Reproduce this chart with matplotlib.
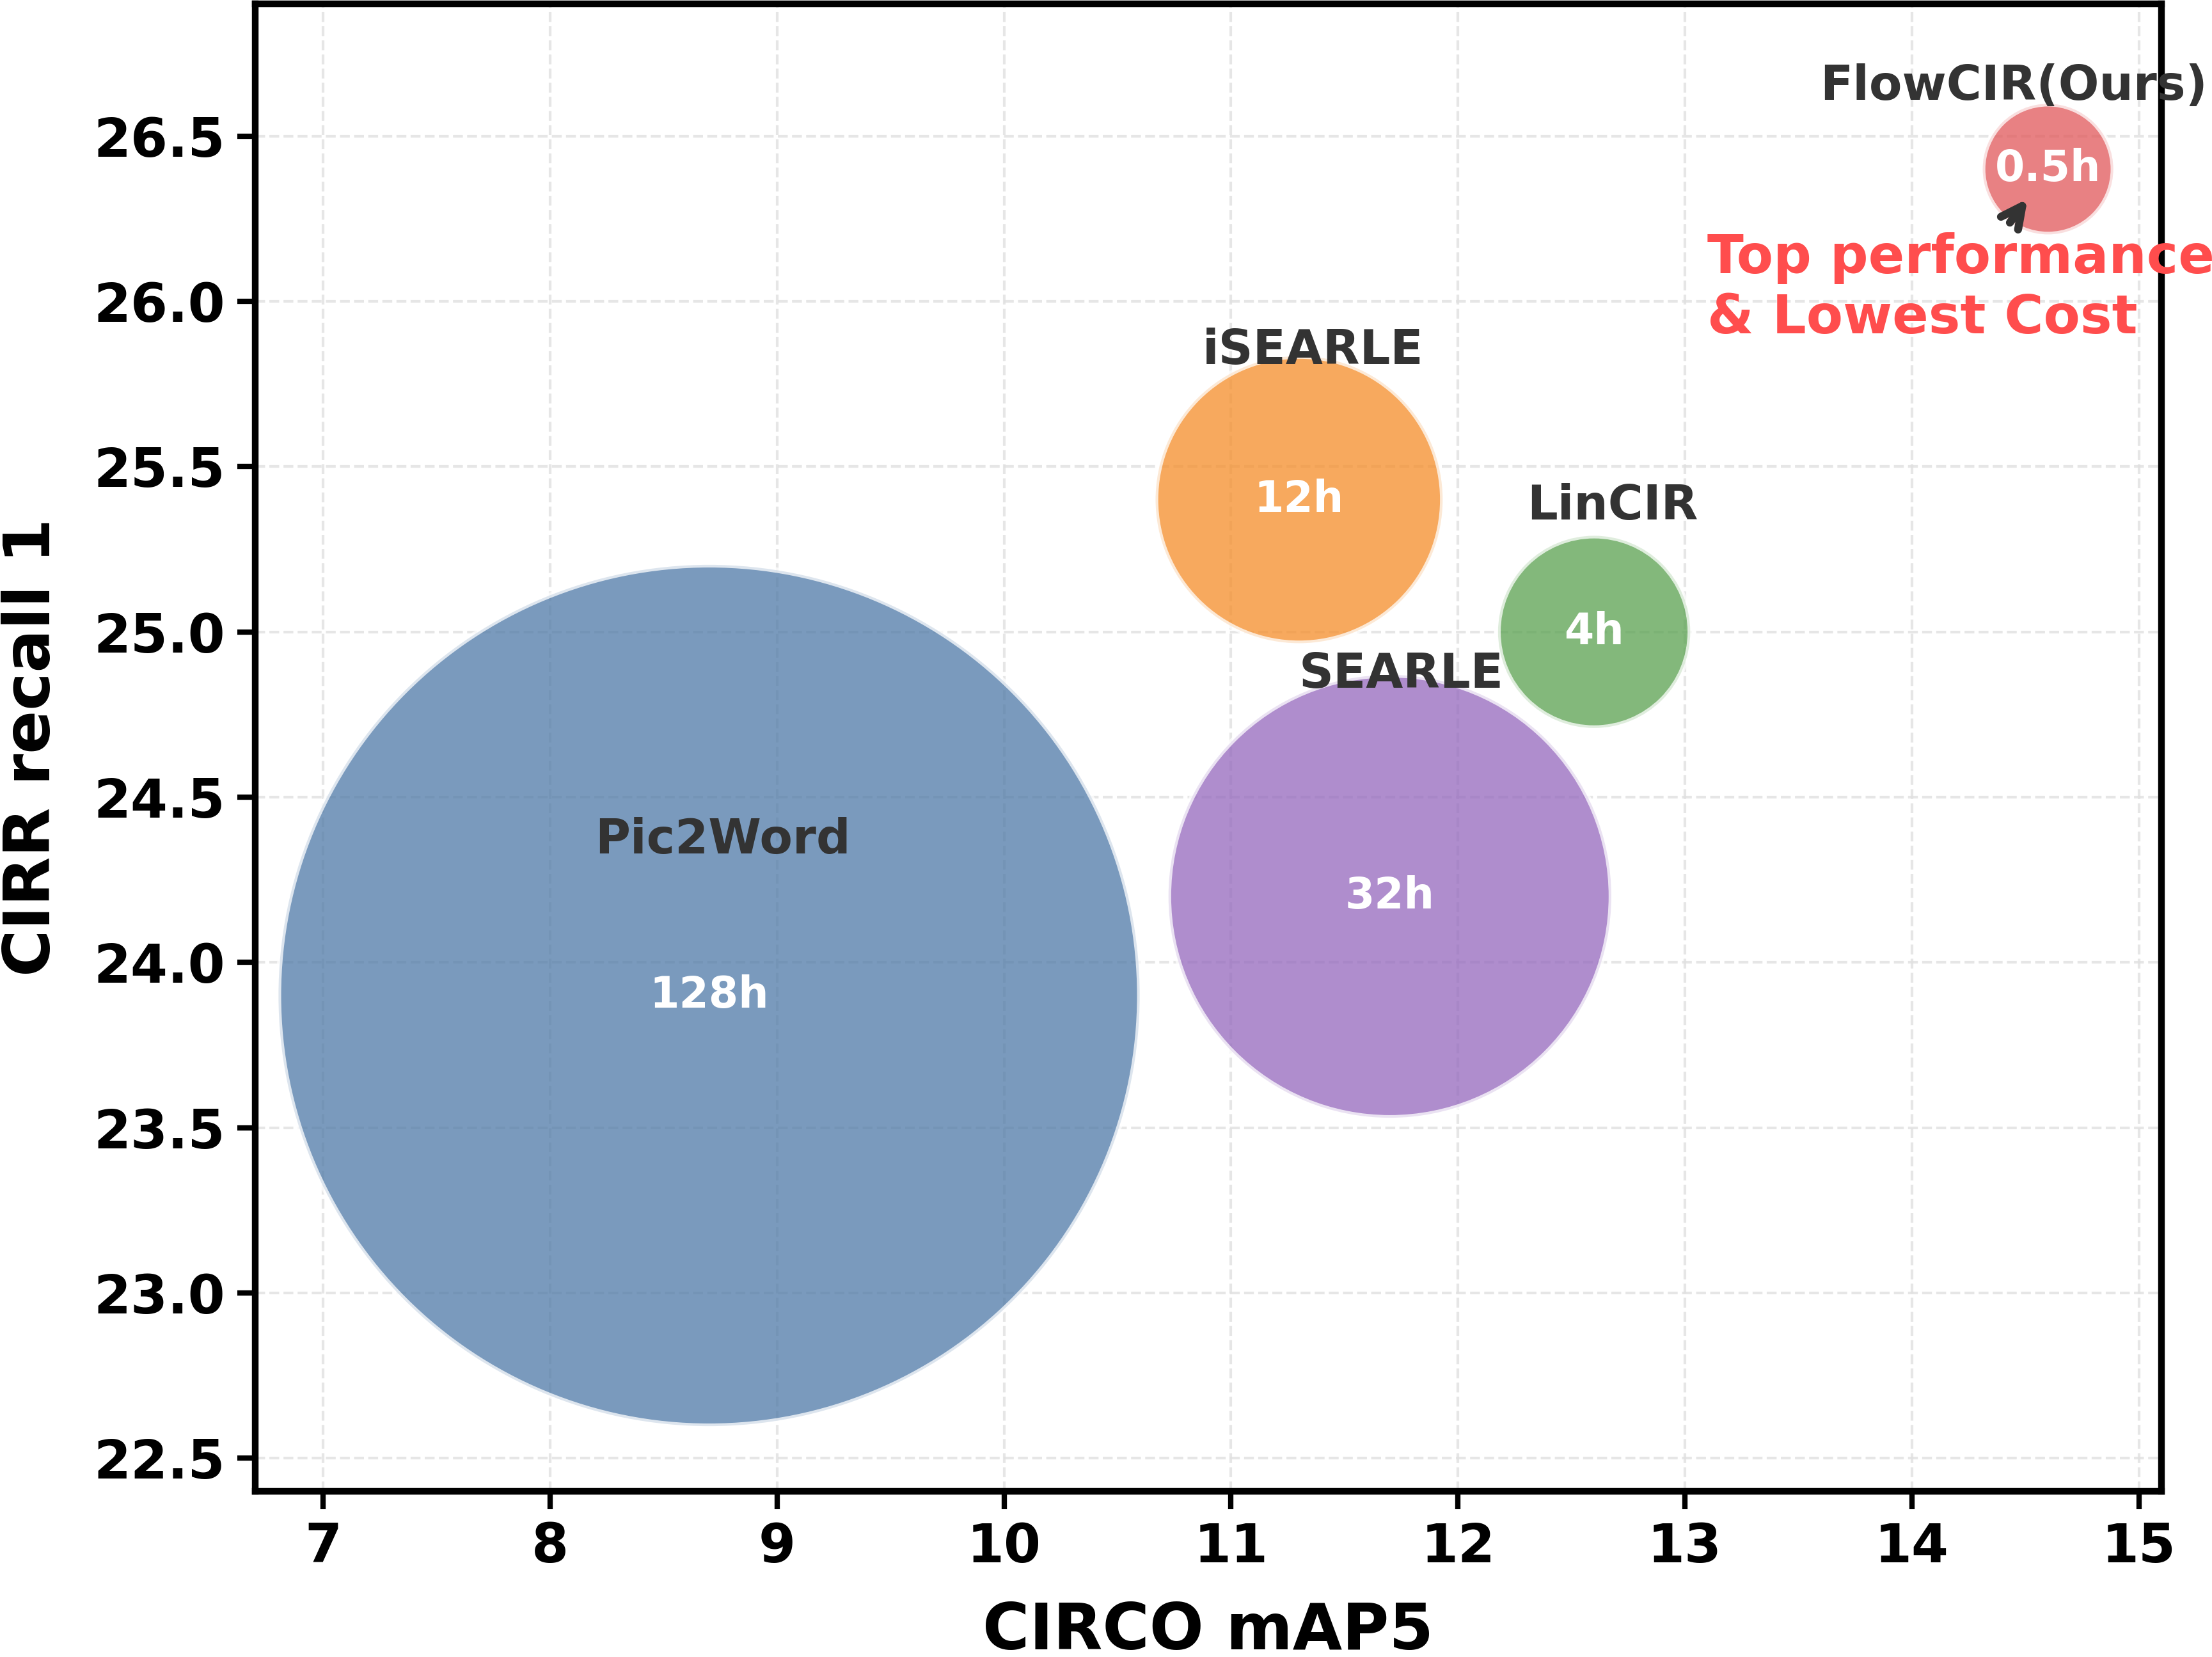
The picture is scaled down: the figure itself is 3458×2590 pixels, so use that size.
import numpy as np
import matplotlib
matplotlib.use("Agg")
import matplotlib.pyplot as plt

# data
methods = ["Pic2Word", "iSEARLE", "LinCIR", "SEARLE", "FlowCIR(Ours)"]
circo_map5 = [8.7, 11.3, 12.6, 11.7, 14.6]
cirr_r1 = [23.9, 25.4, 25.0, 24.2, 26.4]
train_hours = [128, 12, 4, 32, 0.5]
hour_labels = ["128h", "12h", "4h", "32h", "0.5h"]

colors = ["#4E79A7", "#F58D28", "#59A14F", "#9467BD", "#E15759"]
# label offsets (dx, dy) in data units
label_off = [(0.06, 0.47), (0.06, 0.45), (0.08, 0.38), (0.05, 0.67), (-0.15, 0.25)]

plt.rcParams["font.family"] = "DejaVu Sans"
plt.rcParams["font.weight"] = "bold"

fig = plt.figure(figsize=(3458 / 300, 2590 / 300), dpi=300)
ax = fig.add_axes([399 / 3458, 1 - 2331 / 2590, (3379 - 399) / 3458, (2331 - 6) / 2590])

sizes = np.array(train_hours) * 800 + 2000
ax.scatter(circo_map5, cirr_r1, s=sizes, c=colors, alpha=0.75,
           edgecolors="white", linewidths=2, zorder=3)

for i, m in enumerate(methods):
    dx, dy = label_off[i]
    ax.text(circo_map5[i] + dx, cirr_r1[i] + dy, m, ha="center", va="center",
            fontsize=18, fontweight="bold", color="#333333", zorder=5)
    ax.text(circo_map5[i], cirr_r1[i], hour_labels[i], ha="center", va="center",
            fontsize=16, fontweight="bold", color="white", zorder=5)

ax.annotate("Top performance\n& Lowest Cost", xy=(14.51, 26.31), xytext=(13.1, 26.04),
            ha="left", va="center", fontsize=20, fontweight="bold", color="#FF4D4D",
            arrowprops=dict(arrowstyle="->", color="#333333", lw=3,
                            mutation_scale=20, shrinkB=0, capstyle="round"),
            zorder=6, annotation_clip=False)

ax.set_xlim(6.7, 15.1)
ax.set_ylim(22.4, 26.9)
ax.set_xticks(range(7, 16))
ax.set_yticks(np.arange(22.5, 26.51, 0.5))
ax.set_yticklabels([f"{v:.1f}" for v in np.arange(22.5, 26.51, 0.5)])

ax.set_xlabel("CIRCO mAP5", fontsize=24, fontweight="bold", labelpad=10.5)
ax.set_ylabel("CIRR recall 1", fontsize=24, fontweight="bold", labelpad=11.5)
ax.tick_params(axis="both", labelsize=20, length=6.7, width=2, pad=4.5)
for t in ax.get_xticklabels() + ax.get_yticklabels():
    t.set_fontweight("bold")

for sp in ax.spines.values():
    sp.set_linewidth(2.5)

ax.grid(True, linestyle="--", color="#e0e0e0", linewidth=1, alpha=0.8, zorder=0)
ax.set_axisbelow(True)

fig.savefig("out.png", dpi=300)
